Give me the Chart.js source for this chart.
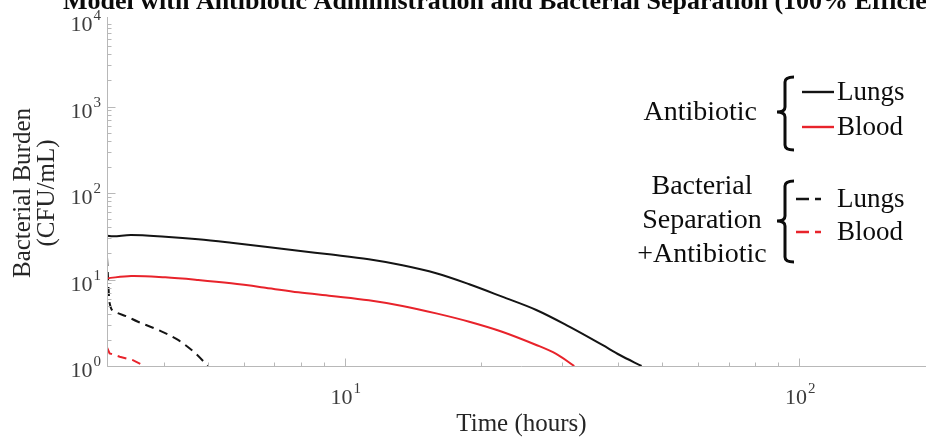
<!DOCTYPE html>
<html><head><meta charset="utf-8">
<script src="https://cdn.jsdelivr.net/npm/chart.js@4.4.0/dist/chart.umd.min.js"></script>
<style>
html,body{margin:0;padding:0;overflow:hidden;background:#fff;width:926px;height:440px}
#wrap{position:relative;width:950px;height:440px}
</style></head>
<body><div id="wrap"><canvas id="c" width="950" height="440"></canvas></div>
<script>
// ---- data ----
const titleText = "Model with Antibiotic Administration and Bacterial Separation (100% Efficiency)";
const xTitle = "Time (hours)";
const yTitleLines = ["Bacterial Burden", "(CFU/mL)"];
const xTickValues = [10, 100];
const yTickValues = [1, 10, 100, 1000, 10000];
const xRange = [3, 200];
const yRange = [1, 10000];

const abxLungsT = [3.0, 3.1, 3.39, 4.03, 4.76, 5.63, 6.69, 7.91, 9.36, 11.3, 13.4, 15.9, 18.8, 22.2, 26.4, 31.2, 36.9, 40.3, 45.0];
const abxLungsV = [32.1, 31.6, 32.7, 31.2, 29.2, 26.6, 23.9, 21.5, 19.4, 17.1, 14.6, 11.8, 8.81, 6.33, 4.44, 2.85, 1.75, 1.34, 1.0];
const abxBloodT = [3.0, 3.39, 4.03, 4.76, 5.63, 6.69, 7.91, 9.36, 11.3, 13.4, 15.9, 18.8, 22.2, 26.4, 29.2, 32.0];
const abxBloodV = [10.3, 11.0, 10.6, 9.87, 9.03, 8.04, 7.11, 6.45, 5.75, 4.94, 4.06, 3.25, 2.49, 1.75, 1.38, 1.0];
const sepLungsT = [3.0, 3.04, 3.12, 3.30, 3.51, 3.89, 4.30, 4.69, 5.0];
const sepLungsV = [18.2, 5.35, 4.24, 3.78, 3.25, 2.61, 2.00, 1.41, 1.0];
const sepBloodT = [3.0, 3.04, 3.20, 3.42, 3.63];
const sepBloodV = [1.64, 1.40, 1.28, 1.17, 1.0];

const legendGroups = [
  { label: ["Antibiotic"], items: ["Lungs", "Blood"], dashed: false },
  { label: ["Bacterial", "Separation", "+Antibiotic"], items: ["Lungs", "Blood"], dashed: true }
];

// ---- styles ----
const BLACK = '#141414', RED = '#e8232b', AXIS = '#b8b8b8';
const SERIF = '"Liberation Serif", "Times New Roman", serif';
const pts = (t, v) => t.map((x, i) => ({ x, y: v[i] }));

function drawPow(ctx, base, exp, x, yBase, align) {
  ctx.font = '22px ' + SERIF;
  const wb = ctx.measureText(base).width;
  ctx.font = '15px ' + SERIF;
  const we = ctx.measureText(exp).width;
  const w = wb + 1 + we;
  let x0 = align === 'right' ? x - w : x - w / 2;
  ctx.textAlign = 'left';
  ctx.textBaseline = 'alphabetic';
  ctx.font = '22px ' + SERIF;
  ctx.fillText(base, x0, yBase);
  ctx.font = '15px ' + SERIF;
  ctx.fillText(exp, x0 + wb + 1, yBase - 11);
}

function brace(ctx, xV, top, bottom, mid) {
  const xR = xV + 9, xL = xV - 8;
  ctx.beginPath();
  ctx.moveTo(xR, top);
  ctx.quadraticCurveTo(xV, top, xV, top + 5);
  ctx.lineTo(xV, mid - 5);
  ctx.quadraticCurveTo(xV, mid, xL, mid);
  ctx.quadraticCurveTo(xV, mid, xV, mid + 5);
  ctx.lineTo(xV, bottom - 5);
  ctx.quadraticCurveTo(xV, bottom, xR, bottom);
  ctx.stroke();
}

const deco = {
  id: 'deco',
  afterDatasetsDraw(chart) {
    const ctx = chart.ctx, xs = chart.scales.x, ys = chart.scales.y, a = chart.chartArea;
    ctx.save();
    // axes
    ctx.strokeStyle = AXIS; ctx.lineWidth = 1;
    ctx.beginPath();
    ctx.moveTo(a.left + 0.5, a.top - 3);
    ctx.lineTo(a.left + 0.5, a.bottom + 0.5);
    ctx.lineTo(a.right, a.bottom + 0.5);
    ctx.stroke();
    // ticks
    const by = a.bottom + 0.5, bx = a.left + 0.5;
    ctx.beginPath();
    for (let d = 1; d <= 1000; d *= 10) {
      for (let m = 1; m <= 9; m++) {
        const v = m * d;
        if (v >= xRange[0] && v <= xRange[1]) {
          const px = Math.round(xs.getPixelForValue(v)) + 0.5;
          const len = m === 1 ? 8 : 4;
          ctx.moveTo(px, by); ctx.lineTo(px, by - len);
        }
        if (v >= yRange[0] && v <= yRange[1]) {
          const py = Math.round(ys.getPixelForValue(v)) + 0.5;
          const len = m === 1 ? 8 : 4;
          ctx.moveTo(bx, py); ctx.lineTo(bx + len, py);
        }
      }
    }
    ctx.stroke();
    // tick labels
    ctx.fillStyle = '#3c3c3c';
    xTickValues.forEach(v => {
      const px = xs.getPixelForValue(v);
      drawPow(ctx, '10', String(Math.round(Math.log10(v))), px + 1, 404, 'center');
    });
    yTickValues.forEach(v => {
      const py = ys.getPixelForValue(v);
      drawPow(ctx, '10', String(Math.round(Math.log10(v))), 101, py + 11, 'right');
    });
    // axis titles
    ctx.fillStyle = '#262626';
    ctx.font = '25px ' + SERIF;
    ctx.textAlign = 'center';
    ctx.textBaseline = 'alphabetic';
    ctx.fillText(xTitle, (a.left + a.right) / 2, 431);
    const cy = (a.top + a.bottom) / 2;
    [30, 54].forEach((bx2, i) => {
      ctx.save();
      ctx.translate(bx2, cy);
      ctx.rotate(-Math.PI / 2);
      ctx.fillText(yTitleLines[i], 0, 0);
      ctx.restore();
    });
    // title
    ctx.fillStyle = '#0a0a0a';
    ctx.font = 'bold 26px ' + SERIF;
    ctx.textAlign = 'left';
    ctx.fillText(titleText, 63, 9);

    // legend
    ctx.font = '28px ' + SERIF;
    ctx.fillStyle = '#0c0c0c';
    ctx.strokeStyle = '#0c0c0c';
    // group 1
    ctx.textAlign = 'right';
    ctx.fillText(legendGroups[0].label[0], 757, 120);
    ctx.lineWidth = 3;
    brace(ctx, 785, 77, 150, 112);
    // group 2
    ctx.textAlign = 'center';
    [194, 228, 262].forEach((yb, i) => ctx.fillText(legendGroups[1].label[i], 702, yb));
    brace(ctx, 785, 181, 262, 221);
    // items
    const rows = [
      { y: 92, c: BLACK, d: [], t: legendGroups[0].items[0] },
      { y: 127, c: RED, d: [], t: legendGroups[0].items[1] },
      { y: 199, c: BLACK, d: [13, 6], t: legendGroups[1].items[0] },
      { y: 232, c: RED, d: [13, 6], t: legendGroups[1].items[1] }
    ];
    ctx.textAlign = 'left';
    ctx.font = '27px ' + SERIF;
    rows.forEach(r => {
      ctx.strokeStyle = r.c; ctx.lineWidth = 2.4; ctx.setLineDash(r.d);
      ctx.beginPath();
      const x0 = r.d.length ? 796 : 802;
      ctx.moveTo(x0, r.y); ctx.lineTo(x0 + (r.d.length ? 25 : 32), r.y);
      ctx.stroke();
      ctx.setLineDash([]);
      ctx.fillStyle = '#0c0c0c';
      ctx.fillText(r.t, 837, r.y + 8);
    });
    ctx.restore();
  }
};

const common = { fill: false, pointRadius: 0, borderWidth: 2, tension: 0.35 };
new Chart(document.getElementById('c'), {
  type: 'line',
  data: {
    datasets: [
      Object.assign({ label: 'Antibiotic – Lungs', data: pts(abxLungsT, abxLungsV), borderColor: BLACK }, common),
      Object.assign({ label: 'Antibiotic – Blood', data: pts(abxBloodT, abxBloodV), borderColor: RED }, common),
      Object.assign({ label: 'Bacterial Separation + Antibiotic – Lungs', data: pts(sepLungsT, sepLungsV), borderColor: BLACK, borderDash: [9, 6], tension: 0, cubicInterpolationMode: 'monotone' }),
      Object.assign({ label: 'Bacterial Separation + Antibiotic – Blood', data: pts(sepBloodT, sepBloodV), borderColor: RED, borderDash: [9, 6], tension: 0 })
    ].map((d, i) => i >= 2 ? Object.assign({ fill: false, pointRadius: 0, borderWidth: 2 }, d) : d)
  },
  options: {
    responsive: false,
    animation: false,
    layout: { padding: { left: 107, top: 20, right: 14, bottom: 74 } },
    plugins: { legend: { display: false }, tooltip: { enabled: false }, title: { display: false } },
    scales: {
      x: {
        type: 'logarithmic', min: xRange[0], max: xRange[1],
        grid: { display: false }, border: { display: false },
        ticks: { display: false },
        afterFit: s => { s.height = 0; }
      },
      y: {
        type: 'logarithmic', min: yRange[0], max: yRange[1],
        grid: { display: false }, border: { display: false },
        ticks: { display: false },
        afterFit: s => { s.width = 0; }
      }
    }
  },
  plugins: [deco]
});
</script>
</body></html>
